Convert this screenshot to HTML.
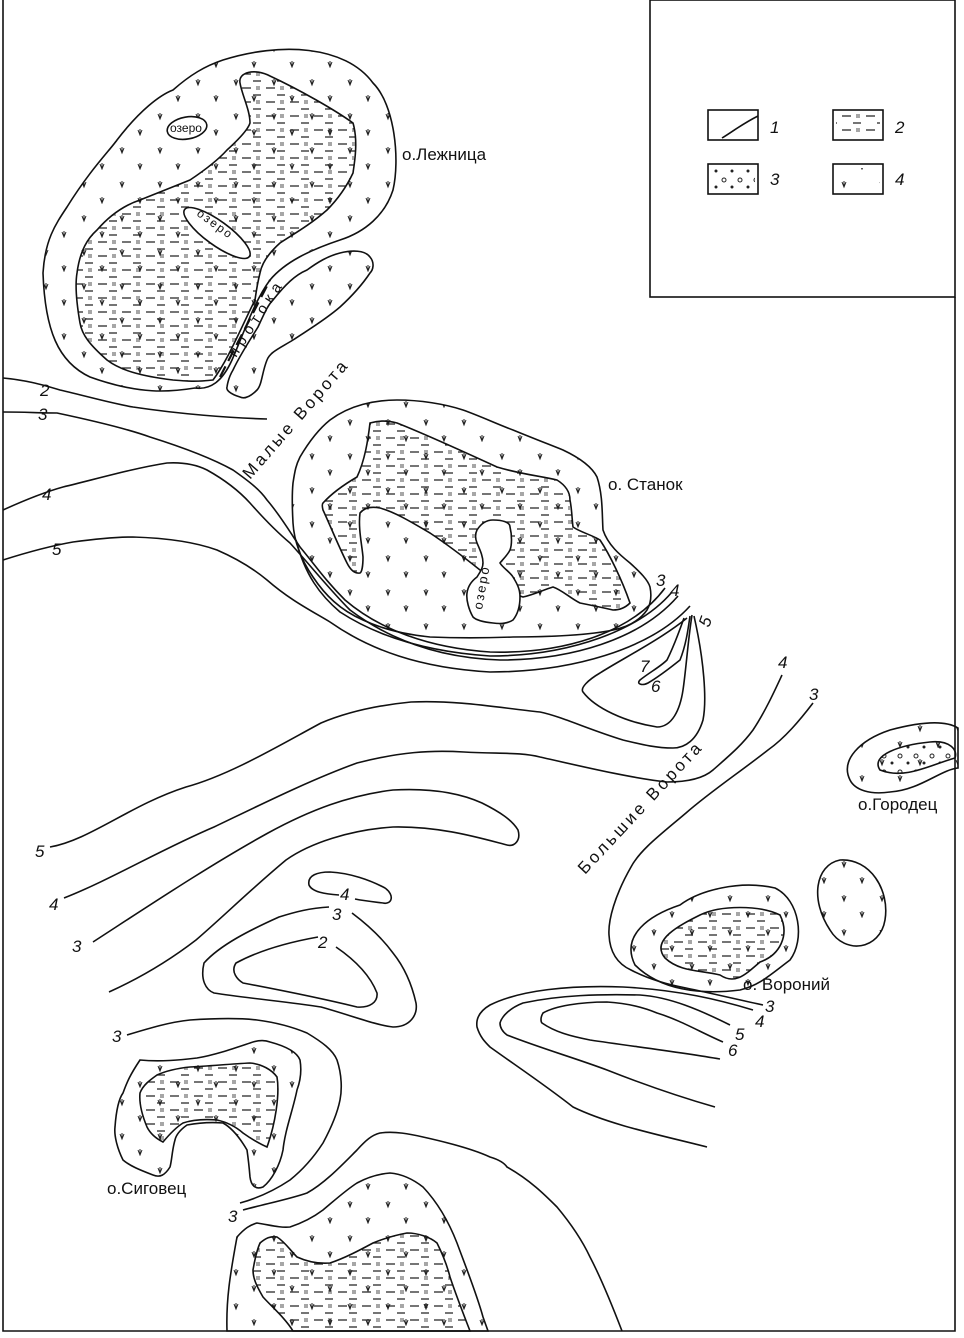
<!DOCTYPE html>
<html><head><meta charset="utf-8"><style>
html,body{margin:0;padding:0;background:#fff}
svg{display:block}
text{font-family:"Liberation Sans",sans-serif;fill:#111}
.n{font-style:italic;font-size:17px}
</style></head><body>
<svg width="964" height="1338" viewBox="0 0 964 1338" xmlns="http://www.w3.org/2000/svg">
<defs>
<pattern id="dash" width="24" height="14" patternUnits="userSpaceOnUse">
<path d="M2 4h9M13 11h8" stroke="#222" stroke-width="1.2"/>
<path d="M17 2v4M19 2v4" stroke="#222" stroke-width="0.8"/>
</pattern>
<pattern id="veg" width="38" height="34" patternUnits="userSpaceOnUse">
<path d="M6 12l2 5l2-5M8 11v6M24 28l2 5l2-5M26 27v6" stroke="#222" stroke-width="1" fill="none"/>
</pattern>
<pattern id="dots" width="16" height="16" patternUnits="userSpaceOnUse">
<circle cx="4" cy="4" r="2" fill="none" stroke="#222" stroke-width="1"/>
<circle cx="12" cy="11" r="1.5" fill="#222"/>
</pattern>
</defs>
<g fill="none" stroke="#111" stroke-width="1.6">
<path d="M3 0V1331H955V297"/>
<rect x="650" y="0" width="305" height="297"/>
<rect x="708" y="110" width="50" height="30"/><path d="M722 138c10-6 20-14 36-22"/>
<rect x="833" y="110" width="50" height="30"/>
<rect x="708" y="164" width="50" height="30"/>
<rect x="833" y="164" width="50" height="30"/>
</g>
<rect x="836" y="114" width="44" height="22" fill="url(#dash)"/>
<rect x="711" y="168" width="44" height="22" fill="url(#dots)"/>
<rect x="836" y="168" width="44" height="22" fill="url(#veg)"/>
<text class="n" x="770" y="133">1</text><text class="n" x="895" y="133">2</text>
<text class="n" x="770" y="185">3</text><text class="n" x="895" y="185">4</text>

<g stroke="#111" stroke-width="1.6">
<!-- Lezhnitsa outer -->
<path fill="url(#veg)" d="M223 60C280 42 345 45 373 83C395 105 400 160 393 190C385 215 365 232 340 240C310 250 285 262 270 280C255 300 245 330 232 360C222 382 210 390 195 388C170 392 140 395 90 377C58 362 45 330 43 273C45 240 55 225 67 207C90 170 110 150 117 140C140 110 160 95 173 90C190 75 205 66 223 60Z"/>
<path fill="url(#dash)" d="M240 83C238 72 255 68 270 76C300 90 335 110 353 123C358 140 355 160 353 173C345 190 335 202 327 210C310 225 292 235 280 243C270 252 262 262 260 273C257 285 256 293 255 300C240 330 228 360 213 380C195 382 185 381 173 380C140 376 120 370 107 360C90 345 82 335 80 323C76 300 75 285 77 273C80 250 88 238 97 230C110 215 125 205 140 200C160 192 175 186 190 180C205 170 218 160 227 150C238 140 248 130 250 123C250 110 242 95 240 83Z"/>
<ellipse cx="187" cy="128" rx="20" ry="11" fill="#fff" transform="rotate(-10 187 128)"/>
<ellipse cx="217" cy="233" rx="40" ry="12" fill="#fff" transform="rotate(36 217 233)"/>
<!-- protoka island -->
<path fill="url(#veg)" d="M233 370C240 355 250 340 258 327C265 312 268 305 273 300C285 285 295 275 307 270C318 262 328 256 340 253C352 250 365 250 370 257C375 263 373 270 370 273C362 285 352 296 340 307C325 320 308 330 293 340C280 348 270 352 267 360C262 372 262 385 257 390C250 397 244 399 240 397C230 394 226 390 227 387C228 380 230 375 233 370Z"/>
<path fill="none" d="M220 377L270 280" stroke-width="2.2" stroke-dasharray="12 6"/>
<!-- Stanok -->
<path fill="url(#veg)" d="M293 483C295 470 296 465 300 457C310 440 320 428 330 420C350 405 375 400 397 400C420 400 445 404 463 410C480 416 497 424 513 430C530 437 548 444 563 450C580 458 592 467 597 477C603 495 602 515 603 530C608 545 620 555 630 563C640 572 648 580 650 587C652 597 650 605 647 610C640 620 628 627 613 630C590 635 550 637 513 637C485 638 455 638 430 637C400 634 380 628 363 620C340 610 325 595 313 577C300 558 294 540 293 523C292 505 292 493 293 483Z"/>
<path fill="url(#dash)" d="M370 423C380 420 390 421 397 423C420 432 460 450 497 467C520 474 540 476 557 480C565 485 570 492 570 500C572 510 572 520 573 527C580 532 592 535 600 540C610 555 622 580 630 603C625 608 620 610 613 610C600 607 590 605 580 603C570 598 562 590 553 587C543 590 533 595 523 597C515 595 513 588 513 580C500 577 490 574 480 570C465 558 448 545 430 533C413 523 395 512 380 508C370 506 364 508 360 513C358 528 362 545 363 557C363 565 362 572 360 573C354 574 350 569 347 563C338 545 330 525 323 510C322 506 322 504 323 503C333 492 345 484 357 477C365 460 368 440 370 423Z"/>
<path fill="#fff" d="M477 530C482 522 488 520 493 520C502 520 510 522 510 527C512 535 512 545 510 550C507 556 502 560 500 563C503 568 510 572 513 577C518 585 520 590 520 597C520 608 517 615 513 620C507 624 500 624 493 623C483 622 476 620 473 617C469 610 466 600 467 593C468 585 473 580 477 577C480 572 483 568 483 563C483 556 480 550 477 543C475 538 475 534 477 530Z"/>
<!-- Gorodets -->
<path fill="url(#veg)" d="M850 780C840 760 860 740 890 730C920 722 945 720 958 728L958 768C940 770 920 790 890 792C870 795 855 790 850 780Z"/>
<path fill="url(#dots)" d="M880 770C870 755 900 745 930 742C950 740 958 750 955 758C930 765 905 780 880 770Z"/>
<path fill="url(#veg)" d="M830 930C810 900 815 865 840 860C870 858 890 890 885 920C880 950 845 955 830 930Z"/>
<!-- Voroniy -->
<path fill="url(#veg)" d="M635 965C620 935 650 915 680 905C700 890 740 880 775 888C800 900 805 940 790 960C770 975 760 985 740 990C700 995 660 990 635 965Z"/>
<path fill="url(#dash)" d="M665 958C650 940 680 925 700 915C720 905 760 905 780 915C790 935 780 955 760 962C745 975 735 985 720 975C700 970 680 972 665 958Z"/>
<!-- Sigovets -->
<path fill="url(#veg)" d="M140 1060C160 1062 180 1060 197 1058C215 1055 235 1048 250 1043C258 1040 265 1040 270 1042C285 1046 297 1052 300 1060C302 1072 300 1082 297 1090C293 1110 285 1130 283 1150C280 1165 272 1180 263 1187C255 1190 251 1185 250 1177C249 1165 248 1157 247 1150C240 1138 232 1128 223 1123C210 1122 198 1123 187 1125C180 1130 176 1135 175 1140C172 1150 172 1160 170 1167C165 1175 160 1178 153 1175C140 1170 130 1166 123 1160C117 1148 114 1135 115 1127C116 1113 118 1100 123 1093C127 1082 130 1075 140 1060Z"/>
<path fill="url(#dash)" d="M157 1075C168 1070 180 1068 190 1067C210 1066 230 1064 250 1063C262 1064 272 1070 277 1077C280 1095 275 1125 267 1147C258 1143 250 1138 243 1133C235 1126 226 1122 217 1120C205 1119 192 1120 183 1123C175 1128 168 1136 163 1142C155 1138 150 1133 147 1127C142 1115 139 1103 140 1093C143 1085 150 1080 157 1075Z"/>
<!-- bottom island -->
<path fill="url(#veg)" d="M227 1331C226 1300 230 1275 237 1237C245 1228 250 1225 257 1223C270 1225 280 1228 290 1227C305 1222 315 1216 323 1210C335 1200 346 1190 357 1183C368 1177 378 1174 390 1173C402 1174 414 1180 423 1187C440 1205 450 1225 457 1243C467 1270 477 1295 483 1317L488 1331Z"/>
<path fill="url(#dash)" d="M293 1331C285 1318 273 1308 263 1297C256 1285 253 1278 253 1270C255 1258 257 1250 260 1243C266 1238 270 1236 277 1237C285 1242 290 1250 297 1257C308 1262 318 1264 330 1263C345 1258 360 1250 373 1243C385 1238 396 1235 407 1233C418 1233 430 1237 437 1243C443 1255 447 1265 450 1277C456 1295 463 1313 470 1331Z"/>
</g>

<g fill="none" stroke="#111" stroke-width="1.6">
<!-- upper-left contours -->
<path d="M3 378C25 380 40 384 60 390C90 397 110 403 133 407C180 414 230 418 267 419"/>
<path d="M3 412C25 412 40 413 57 413C90 420 125 428 150 437C185 448 215 460 233 470C250 482 260 490 267 500C280 515 290 532 300 547C315 565 325 580 345 600C380 630 430 648 490 652C560 654 630 635 665 588"/>
<path d="M3 510C25 500 45 492 63 487C100 478 135 468 167 463C185 462 197 465 207 470C225 480 240 492 250 503C265 520 278 533 290 543C310 565 330 590 350 610C390 640 440 658 500 660C570 660 640 640 678 596"/>
<path d="M3 560C25 553 50 546 73 542C95 539 115 537 133 537C165 538 195 542 217 550C240 560 255 570 267 580C290 600 310 610 330 622C370 650 420 668 490 672C570 672 650 650 690 606"/>
<path d="M296 540C305 575 320 595 340 612C380 638 430 652 490 656C570 656 640 630 672 592"/>
<!-- bundle end loops -->
<path d="M687 618C660 640 620 660 600 673C588 680 580 688 583 692C595 708 625 722 657 727C672 727 680 710 683 690C686 670 688 640 692 615"/>
<path d="M684 618C678 635 672 650 667 660C660 667 650 672 640 680C636 684 642 686 648 683C660 676 670 668 680 660C686 645 688 630 690 616"/>
<path d="M694 616C704 660 707 700 703 720C697 740 685 748 673 748C655 748 640 744 623 740C590 730 560 716 540 712C500 708 460 700 411 702C370 706 340 715 321 723C280 745 230 775 186 787C130 805 90 840 50 847"/>
<!-- left 4 to right 4 -->
<path d="M64 898C110 880 160 850 214 827C260 805 310 780 357 763C400 752 430 750 464 752C500 754 520 752 540 757C580 766 630 778 667 782C690 782 705 777 713 770C730 755 742 745 753 730C765 712 775 690 782 675"/>
<!-- left 3 loop -->
<path d="M93 942C150 905 210 865 268 833C310 810 350 795 393 790C430 788 460 793 482 803C500 812 512 820 518 830C521 840 515 847 507 845C480 838 440 826 393 827C350 830 310 843 286 860C250 890 225 915 196 940C170 960 140 978 109 992"/>
<!-- small loops -->
<path d="M339 895C325 894 312 892 309 885C307 875 318 872 330 872C350 873 370 880 385 888C395 895 392 905 383 903C375 902 365 901 355 899"/>
<path d="M329 907C310 908 295 912 279 917C250 930 220 945 204 963C200 980 206 990 214 993C245 998 290 1002 321 1007C350 1015 375 1025 393 1027C410 1027 418 1015 416 1003C412 985 405 968 393 953C382 938 368 925 352 913"/>
<path d="M318 937C290 942 260 950 236 963C230 972 238 980 243 983C280 990 320 998 357 1007C370 1008 378 1002 377 993C370 975 355 960 336 947"/>
<!-- Bolshie Vorota 3 -->
<path d="M813 703C800 720 785 738 768 750C740 772 710 792 686 813C660 835 640 850 631 867C615 895 608 920 609 935C610 955 620 965 631 970C650 980 670 985 686 988C710 993 740 1000 763 1005"/>
<!-- Voroniy lower loops -->
<path d="M753 1010C720 1000 680 990 623 987C570 985 520 990 490 1005C478 1012 476 1020 477 1027C480 1037 485 1042 490 1047C515 1065 545 1085 573 1107C610 1125 660 1135 707 1147"/>
<path d="M730 1025C700 1010 670 997 640 995C600 994 560 995 523 1003C510 1008 502 1016 500 1023C500 1028 503 1032 507 1035C540 1048 575 1058 607 1070C640 1083 680 1097 715 1107"/>
<path d="M723 1042C700 1032 680 1020 657 1013C640 1006 625 1003 607 1002C580 1002 555 1006 543 1013C540 1018 541 1022 542 1023C555 1032 570 1036 590 1040C630 1046 680 1052 720 1059"/>
<!-- Sigovets 3 contours -->
<path d="M127 1035C150 1028 170 1022 190 1020C220 1018 240 1018 257 1020C280 1023 295 1028 307 1033C322 1042 333 1050 337 1060C342 1075 342 1090 340 1100C337 1115 330 1130 323 1143C312 1160 300 1172 290 1180C275 1190 258 1198 240 1203"/>
<path d="M243 1210C265 1204 290 1199 307 1193C325 1183 342 1165 357 1150C366 1140 372 1135 380 1133C395 1131 410 1134 423 1137C450 1143 475 1150 490 1157C500 1160 505 1164 507 1167C530 1180 545 1195 557 1207C572 1225 582 1240 590 1257C602 1280 612 1305 622 1331"/>
</g>

<g class="n">
<text x="40" y="396">2</text><text x="38" y="420">3</text><text x="42" y="500">4</text><text x="52" y="555">5</text>
<text x="656" y="586">3</text><text x="670" y="596">4</text>
<text transform="translate(709,628) rotate(-70)">5</text>
<text x="651" y="692">6</text><text x="640" y="672">7</text>
<text x="778" y="668">4</text><text x="809" y="700">3</text>
<text x="35" y="857">5</text><text x="49" y="910">4</text><text x="72" y="952">3</text>
<text x="340" y="900">4</text><text x="332" y="920">3</text><text x="318" y="948">2</text>
<text x="765" y="1012">3</text><text x="755" y="1027">4</text><text x="735" y="1040">5</text><text x="728" y="1056">6</text>
<text x="112" y="1042">3</text><text x="228" y="1222">3</text>
</g>
<g font-size="17">
<text x="402" y="160">о.Лежница</text>
<text x="608" y="490">о. Станок</text>
<text x="858" y="810">о.Городец</text>
<text x="743" y="990">о. Вороний</text>
<text x="107" y="1194">о.Сиговец</text>
<text transform="translate(250,480) rotate(-49)" letter-spacing="3">Малые Ворота</text>
<text transform="translate(585,875) rotate(-47)" letter-spacing="3">Большие Ворота</text>
<text transform="translate(236,358) rotate(-57)" letter-spacing="5" font-size="15">протока</text>
<text transform="translate(196,215) rotate(36)" font-size="12" letter-spacing="2">озеро</text>
<text x="170" y="132" font-size="12">озеро</text>
<text transform="translate(482,610) rotate(-80)" font-size="13" letter-spacing="2">озеро</text>
</g>
</svg>
</body></html>
